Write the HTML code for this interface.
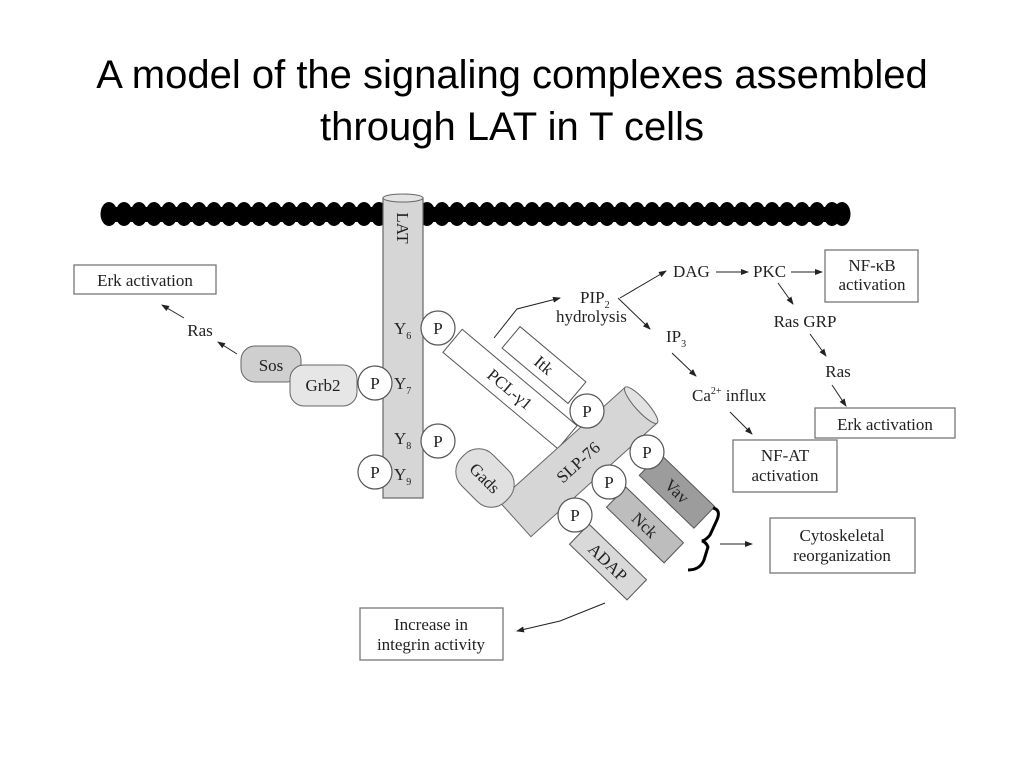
<!DOCTYPE html>
<html><head><meta charset="utf-8"><style>
html,body{margin:0;padding:0;background:#fff;}
svg{display:block;}
.t{font-family:"Liberation Serif",serif;font-size:17px;fill:#222;}
</style></head><body>
<svg width="1024" height="768" viewBox="0 0 1024 768" xmlns="http://www.w3.org/2000/svg">
<defs>
<marker id="a" markerWidth="8" markerHeight="8" refX="7" refY="4" orient="auto" markerUnits="userSpaceOnUse"><path d="M0,1 L8,4 L0,7 Z" fill="#222"/></marker>
</defs>
<text x="512" y="88" text-anchor="middle" font-family="Liberation Sans, sans-serif" font-size="40" fill="#000">A model of the signaling complexes assembled</text>
<text x="512" y="140" text-anchor="middle" font-family="Liberation Sans, sans-serif" font-size="40" fill="#000">through LAT in T cells</text>

<!-- membrane -->
<g fill="#000">
<rect x="104" y="207" width="742" height="15" rx="7"/>
<ellipse cx="109" cy="214" rx="8.5" ry="12"/><ellipse cx="124" cy="214" rx="8.5" ry="12"/><ellipse cx="139" cy="214" rx="8.5" ry="12"/><ellipse cx="154" cy="214" rx="8.5" ry="12"/><ellipse cx="169" cy="214" rx="8.5" ry="12"/><ellipse cx="184" cy="214" rx="8.5" ry="12"/><ellipse cx="199" cy="214" rx="8.5" ry="12"/><ellipse cx="214" cy="214" rx="8.5" ry="12"/><ellipse cx="229" cy="214" rx="8.5" ry="12"/><ellipse cx="244" cy="214" rx="8.5" ry="12"/>
<ellipse cx="259" cy="214" rx="8.5" ry="12"/><ellipse cx="274" cy="214" rx="8.5" ry="12"/><ellipse cx="289" cy="214" rx="8.5" ry="12"/><ellipse cx="304" cy="214" rx="8.5" ry="12"/><ellipse cx="319" cy="214" rx="8.5" ry="12"/><ellipse cx="334" cy="214" rx="8.5" ry="12"/><ellipse cx="349" cy="214" rx="8.5" ry="12"/><ellipse cx="364" cy="214" rx="8.5" ry="12"/><ellipse cx="379" cy="214" rx="8.5" ry="12"/>
<ellipse cx="427" cy="214" rx="8.5" ry="12"/><ellipse cx="442" cy="214" rx="8.5" ry="12"/><ellipse cx="457" cy="214" rx="8.5" ry="12"/><ellipse cx="472" cy="214" rx="8.5" ry="12"/><ellipse cx="487" cy="214" rx="8.5" ry="12"/><ellipse cx="502" cy="214" rx="8.5" ry="12"/><ellipse cx="517" cy="214" rx="8.5" ry="12"/><ellipse cx="532" cy="214" rx="8.5" ry="12"/><ellipse cx="547" cy="214" rx="8.5" ry="12"/><ellipse cx="562" cy="214" rx="8.5" ry="12"/>
<ellipse cx="577" cy="214" rx="8.5" ry="12"/><ellipse cx="592" cy="214" rx="8.5" ry="12"/><ellipse cx="607" cy="214" rx="8.5" ry="12"/><ellipse cx="622" cy="214" rx="8.5" ry="12"/><ellipse cx="637" cy="214" rx="8.5" ry="12"/><ellipse cx="652" cy="214" rx="8.5" ry="12"/><ellipse cx="667" cy="214" rx="8.5" ry="12"/><ellipse cx="682" cy="214" rx="8.5" ry="12"/><ellipse cx="697" cy="214" rx="8.5" ry="12"/><ellipse cx="712" cy="214" rx="8.5" ry="12"/>
<ellipse cx="727" cy="214" rx="8.5" ry="12"/><ellipse cx="742" cy="214" rx="8.5" ry="12"/><ellipse cx="757" cy="214" rx="8.5" ry="12"/><ellipse cx="772" cy="214" rx="8.5" ry="12"/><ellipse cx="787" cy="214" rx="8.5" ry="12"/><ellipse cx="802" cy="214" rx="8.5" ry="12"/><ellipse cx="817" cy="214" rx="8.5" ry="12"/><ellipse cx="832" cy="214" rx="8.5" ry="12"/><ellipse cx="842" cy="214" rx="8.5" ry="12"/>
</g>

<!-- LAT -->
<rect x="383" y="198" width="40" height="300" fill="#d6d6d6" stroke="#666" stroke-width="1.2"/>
<ellipse cx="403" cy="198" rx="20" ry="4" fill="#e4e4e4" stroke="#666"/>
<text class="t" transform="translate(397,228) rotate(90)" text-anchor="middle">LAT</text>
<text class="t" x="394" y="334">Y<tspan font-size="10" dy="5">6</tspan></text>
<text class="t" x="394" y="389">Y<tspan font-size="10" dy="5">7</tspan></text>
<text class="t" x="394" y="444">Y<tspan font-size="10" dy="5">8</tspan></text>
<text class="t" x="394" y="480">Y<tspan font-size="10" dy="5">9</tspan></text>

<!-- Erk left -->
<rect x="74" y="265" width="142" height="29" fill="#fff" stroke="#777" stroke-width="1.3"/>
<text class="t" x="145" y="286" text-anchor="middle">Erk activation</text>
<text class="t" x="200" y="336" text-anchor="middle">Ras</text>
<line x1="184" y1="318" x2="162" y2="305" stroke="#222" marker-end="url(#a)"/>
<line x1="237" y1="354" x2="218" y2="342" stroke="#222" marker-end="url(#a)"/>

<rect x="241" y="346" width="60" height="36" rx="14" fill="#cfcfcf" stroke="#666"/>
<text class="t" x="271" y="371" text-anchor="middle">Sos</text>
<rect x="290" y="365" width="67" height="41" rx="14" fill="#e6e6e6" stroke="#666"/>
<text class="t" x="323" y="391" text-anchor="middle">Grb2</text>

<!-- PCL-gamma1 -->
<g transform="translate(510,389) rotate(40)">
<rect x="-75" y="-15" width="150" height="30" fill="#fff" stroke="#555"/>
<text class="t" x="0" y="6" text-anchor="middle">PCL-γ1</text>
</g>
<!-- Itk -->
<g transform="translate(544,365) rotate(40)">
<rect x="-43" y="-14" width="86" height="28" fill="#fff" stroke="#555"/>
<text class="t" x="0" y="6" text-anchor="middle">Itk</text>
</g>
<!-- SLP-76 -->
<g transform="translate(578,462) rotate(-42)">
<rect x="-85" y="-24" width="170" height="48" fill="#d6d6d6" stroke="#666"/>
<ellipse cx="85" cy="0" rx="6" ry="24" fill="#e2e2e2" stroke="#666"/>
<text class="t" x="0" y="6" text-anchor="middle">SLP-76</text>
</g>
<!-- Gads -->
<g transform="translate(485,478) rotate(45)">
<rect x="-31" y="-22" width="62" height="44" rx="20" fill="#e0e0e0" stroke="#666"/>
<text class="t" x="0" y="6" text-anchor="middle">Gads</text>
</g>
<!-- Vav Nck ADAP -->
<g transform="translate(677,491) rotate(44)">
<rect x="-38" y="-15" width="76" height="30" fill="#9c9c9c" stroke="#555"/>
<text class="t" x="0" y="6" text-anchor="middle">Vav</text>
</g>
<g transform="translate(645,525) rotate(44)">
<rect x="-40" y="-14" width="80" height="28" fill="#bdbdbd" stroke="#555"/>
<text class="t" x="0" y="6" text-anchor="middle">Nck</text>
</g>
<g transform="translate(608,562) rotate(44)">
<rect x="-40" y="-14" width="80" height="28" fill="#d9d9d9" stroke="#555"/>
<text class="t" x="0" y="6" text-anchor="middle">ADAP</text>
</g>

<!-- P circles -->
<g fill="#fff" stroke="#555" stroke-width="1.2">
<circle cx="438" cy="328" r="17"/><circle cx="375" cy="383" r="17"/>
<circle cx="438" cy="441" r="17"/><circle cx="375" cy="472" r="17"/>
<circle cx="587" cy="411" r="17"/><circle cx="647" cy="452" r="17"/>
<circle cx="609" cy="482" r="17"/><circle cx="575" cy="515" r="17"/>
</g>
<text class="t" x="438" y="334" text-anchor="middle">P</text>
<text class="t" x="375" y="389" text-anchor="middle">P</text>
<text class="t" x="438" y="447" text-anchor="middle">P</text>
<text class="t" x="375" y="478" text-anchor="middle">P</text>
<text class="t" x="587" y="417" text-anchor="middle">P</text>
<text class="t" x="647" y="458" text-anchor="middle">P</text>
<text class="t" x="609" y="488" text-anchor="middle">P</text>
<text class="t" x="575" y="521" text-anchor="middle">P</text>

<!-- brace -->
<path d="M713,508 Q722,510 716,522 L710,535 Q706,540 702,541 Q706,542 708,547 L704,560 Q700,570 688,570" fill="none" stroke="#000" stroke-width="3"/>
<line x1="720" y1="544" x2="752" y2="544" stroke="#222" marker-end="url(#a)"/>
<rect x="770" y="518" width="145" height="55" fill="#fff" stroke="#777" stroke-width="1.3"/>
<text class="t" x="842" y="541" text-anchor="middle">Cytoskeletal</text>
<text class="t" x="842" y="561" text-anchor="middle">reorganization</text>

<!-- integrin -->
<polyline points="605,603 560,621 517,631" fill="none" stroke="#222" marker-end="url(#a)"/>
<rect x="360" y="608" width="143" height="52" fill="#fff" stroke="#777" stroke-width="1.3"/>
<text class="t" x="431" y="630" text-anchor="middle">Increase in</text>
<text class="t" x="431" y="650" text-anchor="middle">integrin activity</text>

<!-- PIP2 pathway -->
<polyline points="494,338 517,309 560,298" fill="none" stroke="#222" marker-end="url(#a)"/>
<text class="t" x="580" y="303">PIP<tspan font-size="10" dy="5">2</tspan></text>
<text class="t" x="556" y="322">hydrolysis</text>
<line x1="620" y1="298" x2="666" y2="271" stroke="#222" marker-end="url(#a)"/>
<line x1="618" y1="298" x2="650" y2="329" stroke="#222" marker-end="url(#a)"/>
<text class="t" x="666" y="342">IP<tspan font-size="10" dy="5">3</tspan></text>
<line x1="672" y1="353" x2="696" y2="376" stroke="#222" marker-end="url(#a)"/>
<text class="t" x="692" y="401">Ca<tspan font-size="10" dy="-7">2+</tspan><tspan dy="7"> influx</tspan></text>
<line x1="730" y1="412" x2="752" y2="434" stroke="#222" marker-end="url(#a)"/>
<rect x="733" y="440" width="104" height="52" fill="#fff" stroke="#777" stroke-width="1.3"/>
<text class="t" x="785" y="461" text-anchor="middle">NF-AT</text>
<text class="t" x="785" y="481" text-anchor="middle">activation</text>

<text class="t" x="673" y="277">DAG</text>
<line x1="716" y1="272" x2="748" y2="272" stroke="#222" marker-end="url(#a)"/>
<text class="t" x="753" y="277">PKC</text>
<line x1="791" y1="272" x2="822" y2="272" stroke="#222" marker-end="url(#a)"/>
<rect x="825" y="250" width="93" height="52" fill="#fff" stroke="#777" stroke-width="1.3"/>
<text class="t" x="872" y="271" text-anchor="middle">NF-κB</text>
<text class="t" x="872" y="290" text-anchor="middle">activation</text>
<line x1="778" y1="283" x2="793" y2="304" stroke="#222" marker-end="url(#a)"/>
<text class="t" x="805" y="327" text-anchor="middle">Ras GRP</text>
<line x1="810" y1="334" x2="826" y2="356" stroke="#222" marker-end="url(#a)"/>
<text class="t" x="838" y="377" text-anchor="middle">Ras</text>
<line x1="832" y1="385" x2="846" y2="406" stroke="#222" marker-end="url(#a)"/>
<rect x="815" y="408" width="140" height="30" fill="#fff" stroke="#777" stroke-width="1.3"/>
<text class="t" x="885" y="430" text-anchor="middle">Erk activation</text>
</svg>
</body></html>
